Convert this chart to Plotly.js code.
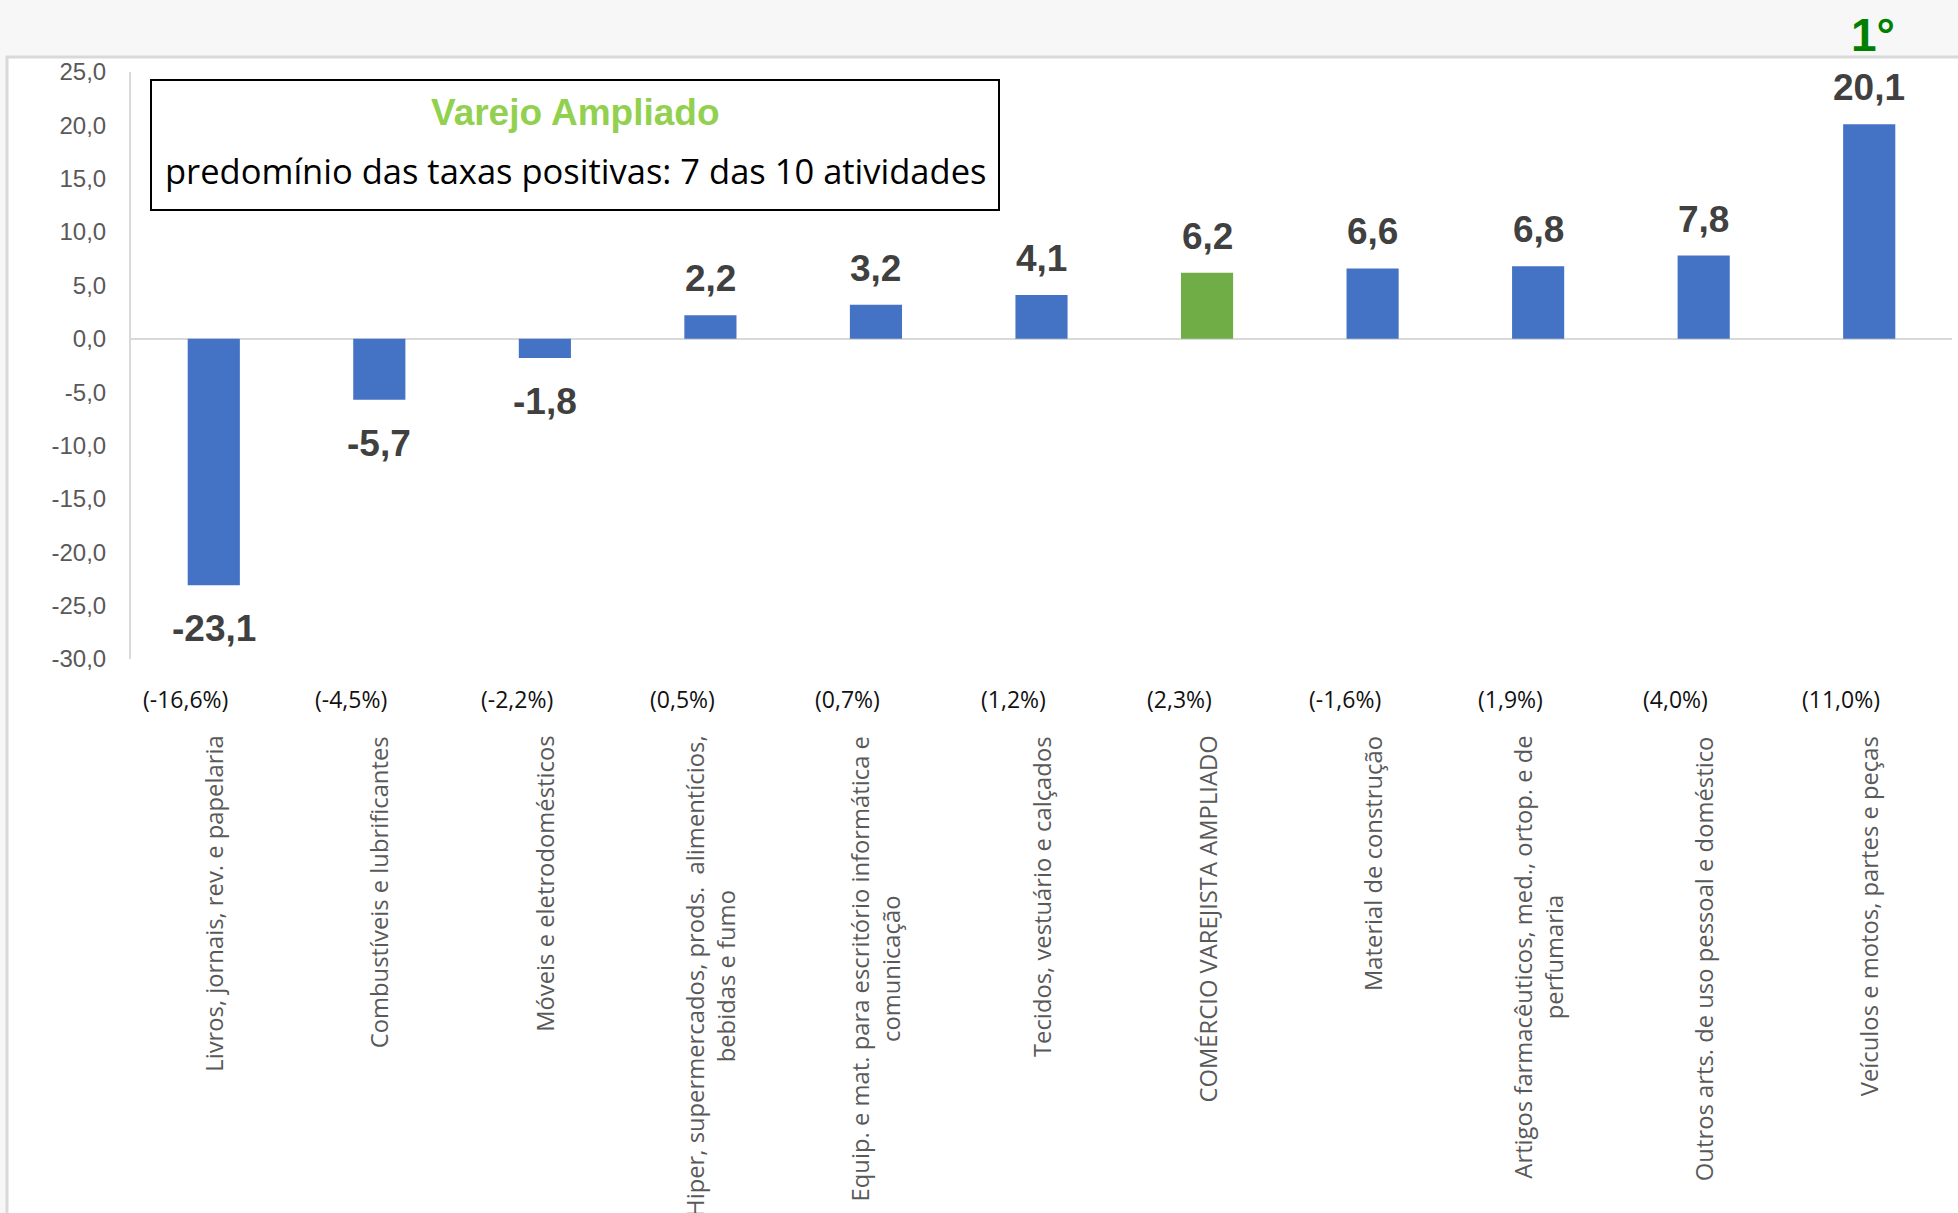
<!DOCTYPE html>
<html>
<head>
<meta charset="utf-8">
<script src="https://cdn.plot.ly/plotly-3.0.1.min.js"></script>
<style>html,body{margin:0;padding:0;background:#f7f7f7;}#chart{width:1958px;height:1213px;}</style>
</head>
<body>
<div id="chart"></div>
<script>
// ---- data ----
const categories = [
  "Livros, jornais, rev. e papelaria",
  "Combustíveis e lubrificantes",
  "Móveis e eletrodomésticos",
  "Hiper, supermercados, prods.  alimentícios,<br>bebidas e fumo",
  "Equip. e mat. para escritório informática e<br>comunicação",
  "Tecidos, vestuário e calçados",
  "COMÉRCIO VAREJISTA AMPLIADO",
  "Material de construção",
  "Artigos farmacêuticos, med., ortop. e de<br>perfumaria",
  "Outros arts. de uso pessoal e doméstico",
  "Veículos e motos, partes e peças"
];
const values = [-23.1, -5.7, -1.8, 2.2, 3.2, 4.1, 6.2, 6.6, 6.8, 7.8, 20.1];
const monthRates = [-16.6, -4.5, -2.2, 0.5, 0.7, 1.2, 2.3, -1.6, 1.9, 4.0, 11.0];
const yTicks = [-30, -25, -20, -15, -10, -5, 0, 5, 10, 15, 20, 25];
const highlightCategory = "COMÉRCIO VAREJISTA AMPLIADO";
const rankLabel = "1°";
const boxTitle = "Varejo Ampliado";
const boxSubtitle = "predomínio das taxas positivas: 7 das 10 atividades";

// ---- helpers ----
const fmt = v => v.toFixed(1).replace('.', ',');
const BLUE = '#4472c4', GREEN = '#70ad47';
const colors = categories.map(c => c === highlightCategory ? GREEN : BLUE);

// pixel -> paper helpers (plot area: left 131, top 72, width 1821, height 587)
const PL = 131, PT = 72, PW = 1821, PH = 587;
const px = x => (x - PL) / PW;
const py = y => (PT + PH - y) / PH;

const trace = {
  type: 'bar',
  x: categories,
  y: values,
  marker: {color: colors, line: {width: 0}},
  width: 0.315,
  hoverinfo: 'skip',
  cliponaxis: false
};

const annotations = [];
// value labels
values.forEach((v, i) => {
  annotations.push({
    x: categories[i], y: v, xref: 'x', yref: 'y',
    text: fmt(v), showarrow: false,
    xanchor: 'center', yanchor: v >= 0 ? 'bottom' : 'top',
    yshift: v >= 0 ? 14 : -21,
    font: {family: 'Liberation Sans, Arial, sans-serif', size: 37, color: '#404040', weight: 'bold'}
  });
});
// monthly rates in parentheses
monthRates.forEach((r, i) => {
  annotations.push({
    x: categories[i], y: py(699), xref: 'x', yref: 'paper',
    text: '(' + fmt(r) + '%)', showarrow: false,
    xanchor: 'center', yanchor: 'middle', xshift: -28,
    font: {family: 'Open Sans, sans-serif', size: 23, color: '#111111'}
  });
});
// rotated category labels
categories.forEach((c, i) => {
  annotations.push({
    x: categories[i], y: py(734), xref: 'x', yref: 'paper',
    text: c, showarrow: false, textangle: -90,
    xanchor: 'center', yanchor: 'top', align: 'center',
    font: {family: 'Open Sans, sans-serif', size: 23.8, color: '#595959'}
  });
});
// rank label
annotations.push({
  x: categories[categories.length - 1], y: py(35), xref: 'x', yref: 'paper',
  text: rankLabel, showarrow: false, xanchor: 'center', yanchor: 'middle', xshift: 4,
  font: {family: 'Liberation Sans, Arial, sans-serif', size: 46, color: '#008000', weight: 'bold'}
});
// box texts
annotations.push({
  x: px(575), y: py(112), xref: 'paper', yref: 'paper',
  text: boxTitle, showarrow: false, xanchor: 'center', yanchor: 'middle',
  font: {family: 'Liberation Sans, Arial, sans-serif', size: 37, color: '#92d050', weight: 'bold'}
});
annotations.push({
  x: px(575), y: py(170), xref: 'paper', yref: 'paper',
  text: boxSubtitle, showarrow: false, xanchor: 'center', yanchor: 'middle',
  font: {family: 'Open Sans, sans-serif', size: 34.5, color: '#000000'}
});

const shapes = [
  {type: 'rect', xref: 'paper', yref: 'paper', layer: 'below',
   x0: px(7), x1: px(1975), y0: py(1230), y1: py(57),
   fillcolor: '#ffffff', line: {color: '#d9d9d9', width: 3}},
  {type: 'rect', xref: 'paper', yref: 'paper', layer: 'above',
   x0: px(151), x1: px(999), y0: py(210), y1: py(80),
   fillcolor: 'rgba(255,255,255,0)', line: {color: '#000000', width: 2}}
];

const layout = {
  width: 1958, height: 1213,
  margin: {l: PL, r: 1958 - PL - PW, t: PT, b: 1213 - PT - PH, pad: 0},
  paper_bgcolor: '#f7f7f7',
  plot_bgcolor: 'rgba(0,0,0,0)',
  separators: ',.',
  showlegend: false,
  bargap: 0.685,
  xaxis: {
    type: 'category', range: [-0.5, categories.length - 0.5],
    showticklabels: false, ticks: '', showgrid: false, zeroline: false, showline: false, fixedrange: true
  },
  yaxis: {
    range: [-30, 25], tickmode: 'array', tickvals: yTicks, ticktext: yTicks.map(fmt),
    showgrid: false, zeroline: true, zerolinecolor: '#d9d9d9', zerolinewidth: 2,
    showline: true, linecolor: '#d9d9d9', linewidth: 2,
    ticks: '', ticklabelstandoff: 18,
    tickfont: {family: 'Liberation Sans, Arial, sans-serif', size: 24, color: '#595959'},
    fixedrange: true
  },
  annotations: annotations,
  shapes: shapes
};

Plotly.newPlot('chart', [trace], layout, {displayModeBar: false, staticPlot: true});
</script>
</body>
</html>
